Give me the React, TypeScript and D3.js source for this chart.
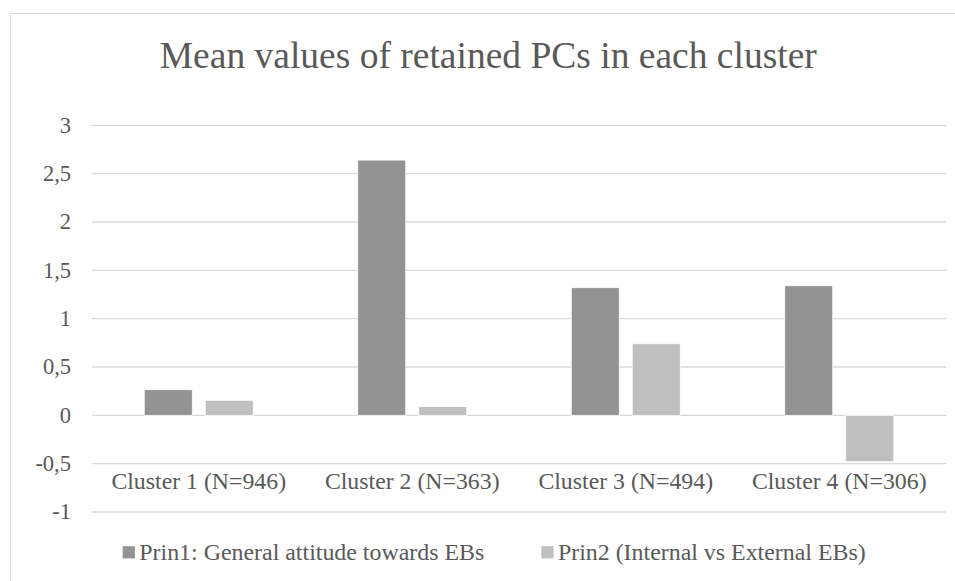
import React from "react";
import * as d3 from "d3";

const clusters = ["Cluster 1 (N=946)", "Cluster 2 (N=363)", "Cluster 3 (N=494)", "Cluster 4 (N=306)"];
const seriesNames = ["Prin1: General attitude towards EBs", "Prin2 (Internal vs External EBs)"];
const prin1 = [0.265, 2.64, 1.32, 1.34];
const prin2 = [0.155, 0.09, 0.74, -0.48];
const yTicks = [-1, -0.5, 0, 0.5, 1, 1.5, 2, 2.5, 3];
const colors = ["#939393", "#bfbfbf"];
const title = "Mean values of retained PCs in each cluster";

const W = 955;
const H = 581;
const FONT = "'Liberation Serif', 'Times New Roman', serif";
const TEXT = "#595959";

export default function App() {
  const plotLeft = 92;
  const plotRight = 946;
  const y = d3.scaleLinear().domain([-1, 3]).range([512, 125.3]);
  const x0 = d3.scaleBand<string>().domain(clusters).range([plotLeft, plotRight]).padding(0);
  const groupW = 109;
  const x1 = d3.scaleBand<string>().domain(seriesNames).range([0, groupW]).paddingInner(13 / 61).paddingOuter(0);
  const offset = (x0.bandwidth() - groupW) / 2;
  const values = [prin1, prin2];
  const fmt = (v: number) => String(v).replace(".", ",");
  const legendX = [122.7, 541.3];

  return (
    <svg width={W} height={H} style={{ position: "absolute", left: 0, top: 0, background: "#fff", fontFamily: FONT }}>
      <rect x={0} y={0} width={W} height={H} fill="#fff" />
      <rect x={10.5} y={13.5} width={W + 20} height={H + 20} fill="none" stroke="#d9d9d9" strokeWidth={1} />
      <text x={488.3} y={68} textAnchor="middle" style={{ fontFamily: FONT }} fontSize={37.5} fill={TEXT}>
        {title}
      </text>
      {yTicks.map((t) => (
        <g key={t}>
          <line x1={plotLeft} x2={plotRight} y1={y(t)} y2={y(t)} stroke="#d9d9d9" strokeWidth={1.3} />
          <text x={71} y={y(t) + 7.4} textAnchor="end" style={{ fontFamily: FONT }} fontSize={22.5} fill={TEXT}>
            {fmt(t)}
          </text>
        </g>
      ))}
      {clusters.map((c, i) => (
        <g key={c} transform={`translate(${x0(c)! + offset},0)`}>
          {seriesNames.map((s, j) => {
            const v = values[j][i];
            const top = y(Math.max(0, v));
            const h = Math.abs(y(v) - y(0));
            return (
              <rect key={s} x={x1(s)} y={top} width={x1.bandwidth()} height={h} fill={colors[j]} stroke="#fff" strokeWidth={0.75} />
            );
          })}
        </g>
      ))}
      {clusters.map((c) => (
        <text key={c} x={x0(c)! + x0.bandwidth() / 2} y={489} textAnchor="middle" style={{ fontFamily: FONT }} fontSize={23.8} fill={TEXT}>
          {c}
        </text>
      ))}
      {seriesNames.map((s, j) => {
        const lx = legendX[j];
        return (
          <g key={s}>
            <rect x={lx} y={546.2} width={12.2} height={12.2} fill={colors[j]} />
            <text x={lx + 16.6} y={560} style={{ fontFamily: FONT }} fontSize={23.9} fill={TEXT}>
              {s}
            </text>
          </g>
        );
      })}
    </svg>
  );
}
